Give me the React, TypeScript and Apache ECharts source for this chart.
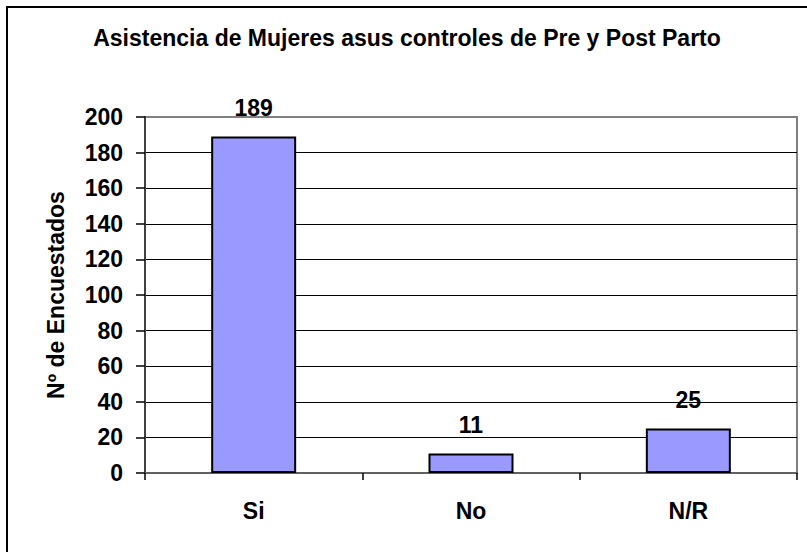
import React, { useEffect, useRef } from "react";
import * as echarts from "echarts";

const categories = ["Si", "No", "N/R"];
const values = [189, 11, 25];
const yTicks = { min: 0, max: 200, interval: 20 };
const titleText = "Asistencia de Mujeres asus controles de Pre y Post Parto";
const yAxisName = "Nº de Encuestados";

const FONT = "'Liberation Sans', Arial, sans-serif";
const LABEL_SIZE = 23;

export default function App() {
  const ref = useRef<HTMLDivElement>(null);
  useEffect(() => {
    if (!ref.current) return;
    const chart = echarts.init(ref.current, undefined, { renderer: "svg" });
    const splitColors: string[] = [];
    for (let v = yTicks.min; v <= yTicks.max; v += yTicks.interval) {
      splitColors.push(v === yTicks.max ? "#808080" : "#000000");
    }
    const txt = { fontFamily: FONT, fontWeight: "bold" as const, fontSize: LABEL_SIZE, color: "#000" };
    chart.setOption({
      animation: false,
      backgroundColor: "#ffffff",
      title: {
        text: titleText,
        left: 402,
        textAlign: "center",
        top: 21,
        textStyle: { fontFamily: FONT, fontWeight: "bold", fontSize: 23, color: "#000" },
      },
      graphic: [
        {
          type: "rect",
          shape: { x: 7, y: 7, width: 840, height: 580 },
          style: { fill: "none", stroke: "#000", lineWidth: 2 },
          silent: true,
        },
      ],
      grid: {
        left: 145,
        top: 117,
        width: 652,
        height: 356,
        show: true,
        borderColor: "#808080",
        borderWidth: 2,
        backgroundColor: "transparent",
      },
      xAxis: {
        type: "category",
        data: categories,
        axisLine: { show: true, lineStyle: { color: "#606060", width: 2 } },
        axisTick: { show: true, length: 7, lineStyle: { color: "#000", width: 1.5 } },
        axisLabel: { margin: 26, ...txt },
      },
      yAxis: {
        type: "value",
        min: yTicks.min,
        max: yTicks.max,
        interval: yTicks.interval,
        name: yAxisName,
        nameLocation: "middle",
        nameRotate: 90,
        nameGap: 78,
        nameTextStyle: { ...txt },
        axisLine: { show: true, lineStyle: { color: "#404040", width: 2 } },
        axisTick: { show: true, length: 9, lineStyle: { color: "#000", width: 1.5 } },
        axisLabel: { margin: 22, ...txt },
        splitLine: { show: true, lineStyle: { color: splitColors, width: 1 } },
      },
      series: [
        {
          type: "bar",
          data: values,
          barWidth: 85,
          itemStyle: { color: "#9999FF", borderColor: "#000", borderWidth: 2 },
          label: { show: true, position: "top", distance: 17, ...txt },
        },
      ],
    });
    return () => chart.dispose();
  }, []);
  return (
    <div
      ref={ref}
      style={{ position: "absolute", left: 0, top: 0, width: 807, height: 552 }}
    />
  );
}
